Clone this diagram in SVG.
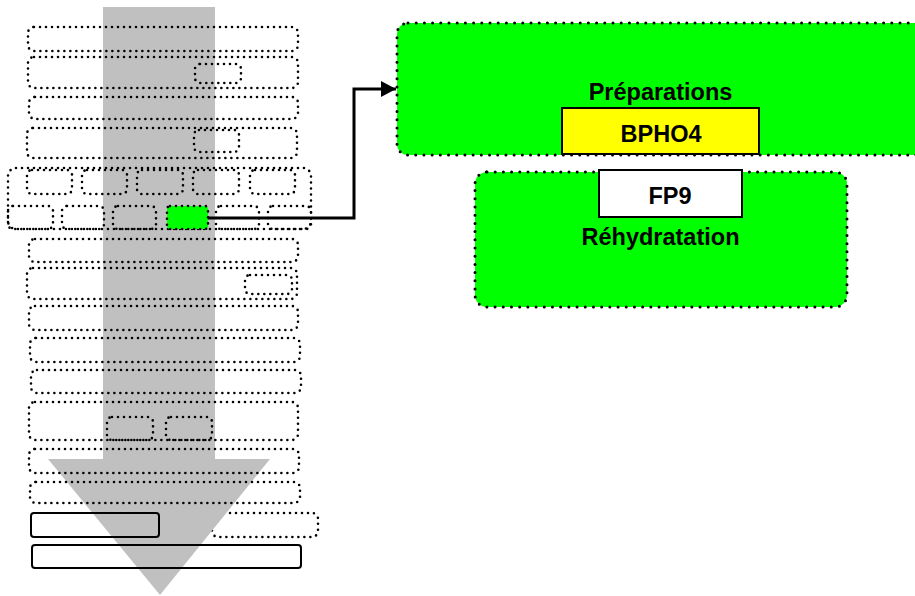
<svg xmlns="http://www.w3.org/2000/svg" width="915" height="596" viewBox="0 0 915 596">
<style>
.dot{fill:none;stroke:#000;stroke-width:2.6;stroke-dasharray:0 6;stroke-linecap:round}
.dotg{fill:#00ff00;stroke:#000;stroke-width:2.6;stroke-dasharray:0 6;stroke-linecap:round}
.big{fill:#00ff00;stroke:#000;stroke-width:3;stroke-dasharray:0 8.2;stroke-linecap:round}
.solid{fill:none;stroke:#000;stroke-width:2}
.lbl{font-family:"Liberation Sans",Arial,sans-serif;font-weight:bold;font-size:23.5px;fill:#000;text-anchor:middle}
.conn{fill:none;stroke:#000;stroke-width:3}
</style>
<defs>
<marker id="ah" markerUnits="userSpaceOnUse" markerWidth="16" markerHeight="16" refX="15" refY="8" orient="auto">
<path d="M0,0 L15,8 L0,16 Z" fill="#000"/>
</marker>
</defs>
<g id="stack-under">
<rect class="dot" x="212" y="513" width="106" height="24" rx="6"/>
</g>
<g id="flow-arrow">
<path d="M103,7 H215 V459 H270 L160,595 L48,459 H103 Z" fill="#c0c0c0"/>
</g>
<g id="stack">
<rect class="dot" x="28" y="27" width="270" height="24" rx="6"/>
<rect class="dot" x="28" y="57" width="270" height="31" rx="6"/>
<rect class="dot" x="195" y="64" width="46" height="19" rx="5"/>
<rect class="dot" x="29" y="97" width="269" height="22" rx="6"/>
<rect class="dot" x="27" y="128" width="270" height="30" rx="6"/>
<rect class="dot" x="194" y="130" width="45" height="22" rx="5"/>
<rect class="dot" x="8" y="168" width="303" height="61" rx="8"/>
<rect class="dot" x="27" y="170" width="45" height="24" rx="5"/>
<rect class="dot" x="82" y="170" width="45" height="24" rx="5"/>
<rect class="dot" x="137" y="170" width="46" height="24" rx="5"/>
<rect class="dot" x="193" y="170" width="46" height="24" rx="5"/>
<rect class="dot" x="250" y="170" width="45" height="24" rx="5"/>
<rect class="dot" x="8" y="206" width="45" height="23" rx="5"/>
<rect class="dot" x="62" y="206" width="42" height="23" rx="5"/>
<rect class="dot" x="113" y="206" width="43" height="23" rx="5"/>
<rect class="dot" x="216" y="206" width="43" height="23" rx="5"/>
<rect class="dot" x="268" y="206" width="43" height="23" rx="5"/>
<rect class="dot" x="29" y="239" width="269" height="23" rx="6"/>
<rect class="dot" x="27" y="268" width="270" height="31" rx="6"/>
<rect class="dot" x="245" y="275" width="47" height="19" rx="5"/>
<rect class="dot" x="29" y="306" width="269" height="24" rx="6"/>
<rect class="dot" x="30" y="338" width="270" height="24" rx="6"/>
<rect class="dot" x="31" y="370" width="270" height="23" rx="6"/>
<rect class="dot" x="29" y="402" width="269" height="38" rx="6"/>
<rect class="dot" x="107" y="417" width="46" height="23" rx="5"/>
<rect class="dot" x="166" y="417" width="46" height="23" rx="5"/>
<rect class="dot" x="29" y="449" width="270" height="24" rx="6"/>
<rect class="dot" x="30" y="482" width="270" height="21" rx="6"/>
<rect class="solid" x="31" y="513" width="128" height="24" rx="3"/>
<rect class="solid" x="32" y="545" width="269" height="23" rx="3"/>
</g>
<g id="source">
<rect class="dotg" x="167" y="206" width="41" height="23" rx="3"/>
</g>
<g id="preparations">
<rect class="big" x="397" y="23" width="540" height="132" rx="11"/>
<text class="lbl" x="660.5" y="99.5">Préparations</text>
<rect x="562" y="108" width="197" height="46" fill="#ffff00" stroke="#000" stroke-width="2"/>
<text class="lbl" x="661" y="141.5">BPHO4</text>
</g>
<g id="rehydratation">
<rect class="big" x="475" y="172" width="372" height="135" rx="12"/>
<rect x="599" y="170" width="143" height="47" fill="#fff" stroke="#000" stroke-width="2"/>
<text class="lbl" x="670" y="203.5">FP9</text>
<text class="lbl" x="660.5" y="245">Réhydratation</text>
</g>
<g id="connectors">
<path class="conn" d="M208,218 H354 V89 H396" marker-end="url(#ah)"/>
</g>
</svg>
